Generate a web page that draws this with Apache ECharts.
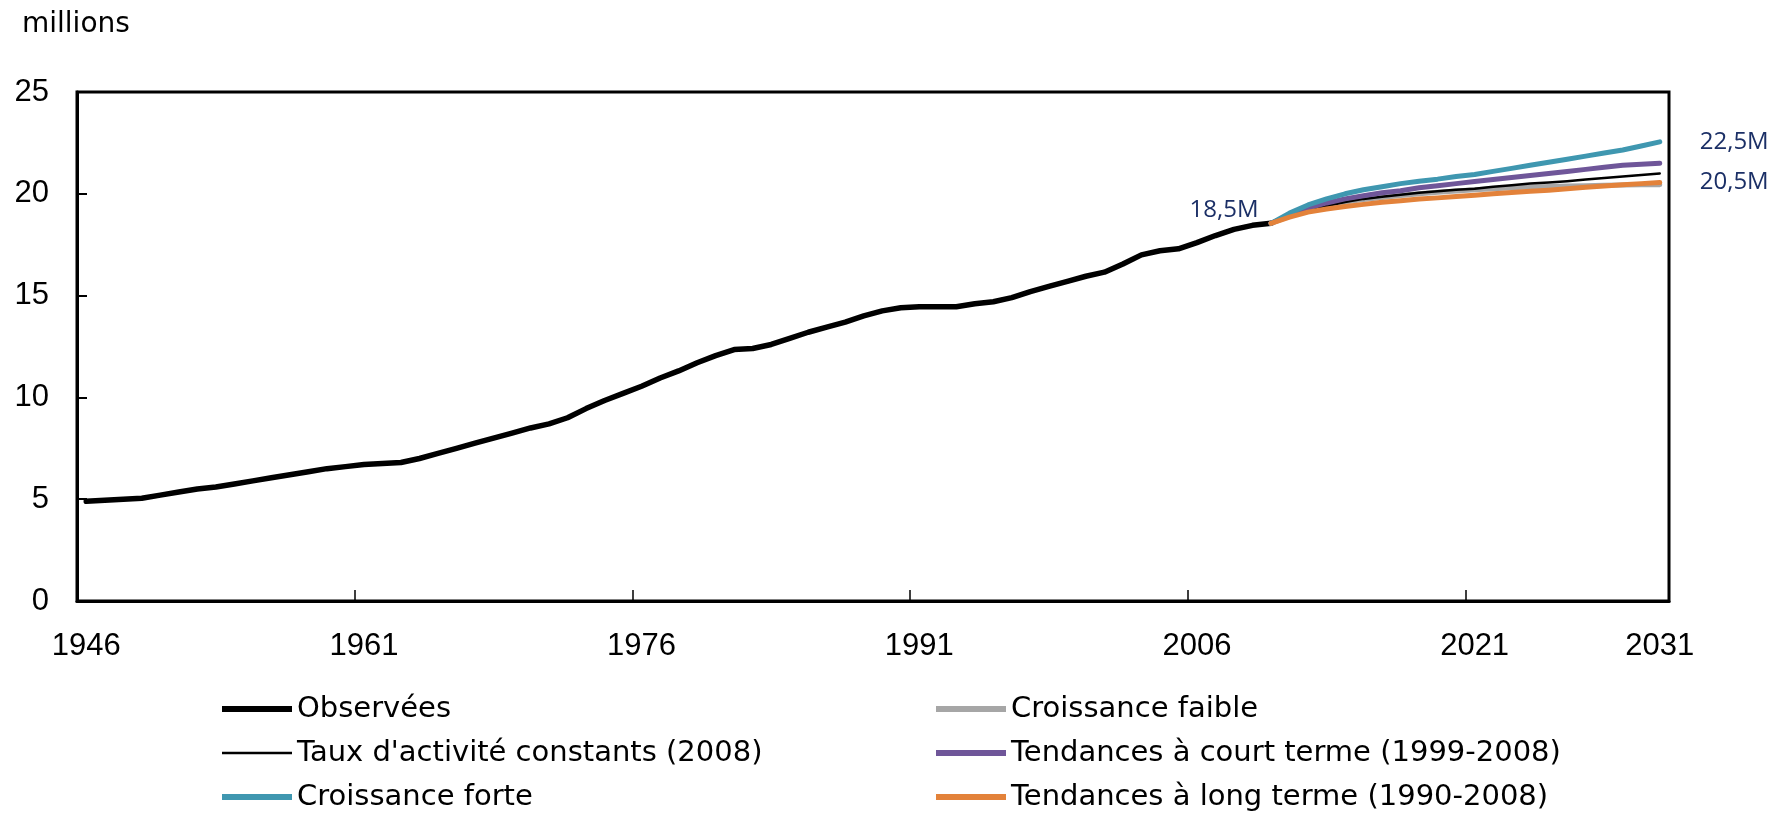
<!DOCTYPE html>
<html>
<head>
<meta charset="utf-8">
<script src="https://cdn.jsdelivr.net/npm/echarts@6/dist/echarts.min.js"></script>
<style>
    html, body { margin: 0; padding: 0; background: #ffffff; }
    #labour-force { width: 1773px; height: 814px; }
</style>
</head>
<body>
<div id="labour-force"></div>
<script>
// years on the category axis
var years = [1946, 1947, 1948, 1949, 1950, 1951, 1952, 1953, 1954, 1955, 1956, 1957, 1958, 1959, 1960,
    1961, 1962, 1963, 1964, 1965, 1966, 1967, 1968, 1969, 1970, 1971, 1972, 1973, 1974, 1975,
    1976, 1977, 1978, 1979, 1980, 1981, 1982, 1983, 1984, 1985, 1986, 1987, 1988, 1989, 1990,
    1991, 1992, 1993, 1994, 1995, 1996, 1997, 1998, 1999, 2000, 2001, 2002, 2003, 2004, 2005,
    2006, 2007, 2008, 2009, 2010, 2011, 2012, 2013, 2014, 2015, 2016, 2017, 2018, 2019, 2020,
    2021, 2022, 2023, 2024, 2025, 2026, 2027, 2028, 2029, 2030, 2031];

var x_tick_labels = [1946, 1961, 1976, 1991, 2006, 2021, 2031];

// observed 1946-2010 (millions)
var observed = [4.9, 4.95, 5.0, 5.05, 5.2, 5.35, 5.5, 5.6, 5.75, 5.9, 6.05, 6.2, 6.35, 6.5, 6.6,
    6.7, 6.75, 6.8, 7.0, 7.25, 7.5, 7.75, 8.0, 8.25, 8.5, 8.7, 9.0, 9.45, 9.85, 10.2,
    10.55, 10.95, 11.3, 11.7, 12.05, 12.35, 12.4, 12.6, 12.9, 13.2, 13.45, 13.7, 14.0, 14.25, 14.4,
    14.45, 14.45, 14.45, 14.6, 14.7, 14.9, 15.2, 15.45, 15.7, 15.95, 16.15, 16.55, 17.0, 17.2, 17.3,
    17.6, 17.95, 18.25, 18.45, 18.55];

// projections 2010-2031
var proj_start_year = 2010;
var croissance_faible = [18.55, 18.9, 19.2, 19.4, 19.6, 19.72, 19.82, 19.92, 20.0, 20.08, 20.14,
    20.2, 20.25, 20.3, 20.33, 20.36, 20.38, 20.4, 20.42, 20.43, 20.44, 20.45];
var taux_constants = [18.55, 18.9, 19.2, 19.4, 19.6, 19.75, 19.85, 19.95, 20.05, 20.12, 20.2,
    20.25, 20.35, 20.42, 20.5, 20.55, 20.62, 20.7, 20.78, 20.85, 20.92, 21.0];
var court_terme = [18.55, 18.95, 19.3, 19.55, 19.75, 19.9, 20.05, 20.15, 20.3, 20.4, 20.5,
    20.6, 20.7, 20.8, 20.9, 21.0, 21.1, 21.2, 21.3, 21.4, 21.45, 21.5];
var croissance_forte = [18.55, 19.05, 19.45, 19.75, 20.0, 20.2, 20.35, 20.5, 20.62, 20.72, 20.85,
    20.95, 21.1, 21.25, 21.4, 21.55, 21.7, 21.85, 22.0, 22.15, 22.35, 22.55];
var long_terme = [18.55, 18.85, 19.1, 19.25, 19.38, 19.48, 19.58, 19.66, 19.74, 19.8, 19.87,
    19.93, 20.0, 20.06, 20.12, 20.18, 20.25, 20.32, 20.38, 20.44, 20.5, 20.56];

var series_names = ["Observées", "Croissance faible", "Taux d'activité constants (2008)",
    "Tendances à court terme (1999-2008)", "Croissance forte", "Tendances à long terme (1990-2008)"];

function padProjection(values) {
    var offset = years.indexOf(proj_start_year);
    var out = [];
    for (var i = 0; i < offset; i++) out.push(null);
    return out.concat(values);
}

var label_font = "'Open Sans', 'Noto Sans', sans-serif";
var label_color = '#1b2f66';
var thick_icon = 'path://M0,0H70V6H0Z';
var thin_icon = 'path://M0,0H70V2.5H0Z';

function lineSeries(name, data, color, width, extra) {
    var s = {
        name: name,
        type: 'line',
        data: data,
        symbol: 'none',
        showSymbol: false,
        smooth: false,
        connectNulls: false,
        lineStyle: { color: color, width: width, join: 'round', cap: 'round' },
        itemStyle: { color: color },
        emphasis: { disabled: true },
        animation: false
    };
    if (extra) Object.assign(s, extra);
    return s;
}

// one legend block per entry, laid out as two columns of three rows
function legendItem(name, icon, left, top) {
    return {
        orient: 'horizontal',
        left: left,
        top: top,
        padding: 0,
        itemWidth: 70,
        itemHeight: 16,
        symbolKeepAspect: true,
        selectedMode: false,
        textStyle: { fontFamily: 'DejaVu Sans', fontSize: 29, color: '#000', lineHeight: 30 },
        data: [{ name: name, icon: icon }]
    };
}

var chart_dom = document.getElementById('labour-force');
var myChart = echarts.init(chart_dom);

var option = {
    backgroundColor: '#ffffff',
    animation: false,
    title: {
        text: 'millions',
        left: 17,
        top: 6,
        textStyle: { fontFamily: 'DejaVu Sans', fontSize: 28, fontWeight: 'normal', color: '#000' }
    },
    grid: {
        left: 77,
        right: 104,
        top: 92,
        bottom: 213,
        show: true,
        borderColor: '#000',
        borderWidth: 3,
        containLabel: false
    },
    legend: [
        legendItem(series_names[0], thick_icon, 222, 694),
        legendItem(series_names[2], thin_icon, 222, 738),
        legendItem(series_names[4], thick_icon, 222, 782),
        legendItem(series_names[1], thick_icon, 936, 694),
        legendItem(series_names[3], thick_icon, 936, 738),
        legendItem(series_names[5], thick_icon, 936, 782)
    ],
    xAxis: {
        type: 'category',
        data: years,
        boundaryGap: true,
        axisLine: { show: true, lineStyle: { color: '#000', width: 3 } },
        axisTick: {
            show: true,
            inside: true,
            length: 11,
            lineStyle: { color: '#000', width: 1.5 },
            interval: function (index) {
                return index > 0 && index % 15 === 0;
            }
        },
        axisLabel: {
            margin: 30,
            fontFamily: 'Liberation Sans',
            fontSize: 31,
            color: '#000',
            interval: function (index, value) {
                return x_tick_labels.indexOf(Number(value)) !== -1;
            }
        },
        splitLine: { show: false }
    },
    yAxis: {
        type: 'value',
        min: 0,
        max: 25,
        interval: 5,
        axisLine: { show: true, lineStyle: { color: '#000', width: 3 } },
        axisTick: { show: true, inside: true, length: 10, lineStyle: { color: '#000', width: 2 } },
        axisLabel: { margin: 28, fontFamily: 'Liberation Sans', fontSize: 31, color: '#000' },
        splitLine: { show: false }
    },
    series: [
        lineSeries(series_names[0], observed, '#000000', 5.5, {
            markPoint: {
                symbol: 'circle',
                symbolSize: 1,
                itemStyle: { color: 'rgba(0,0,0,0)' },
                label: {
                    show: true,
                    position: 'left',
                    offset: [-7, -13],
                    formatter: '18,5M',
                    fontFamily: label_font,
                    fontSize: 24,
                    color: label_color
                },
                data: [{ coord: [String(proj_start_year), observed[observed.length - 1]] }]
            }
        }),
        lineSeries(series_names[1], padProjection(croissance_faible), '#a6a6a6', 5),
        lineSeries(series_names[2], padProjection(taux_constants), '#000000', 2.5),
        lineSeries(series_names[3], padProjection(court_terme), '#6f5699', 5),
        lineSeries(series_names[4], padProjection(croissance_forte), '#3f97b0', 5, {
            endLabel: {
                show: true,
                formatter: '22,5M',
                distance: 40,
                fontFamily: label_font,
                fontSize: 24,
                color: label_color
            }
        }),
        lineSeries(series_names[5], padProjection(long_terme), '#e3823a', 5, {
            endLabel: {
                show: true,
                formatter: '20,5M',
                distance: 40,
                fontFamily: label_font,
                fontSize: 24,
                color: label_color
            }
        })
    ]
};

myChart.setOption(option);
</script>
</body>
</html>
